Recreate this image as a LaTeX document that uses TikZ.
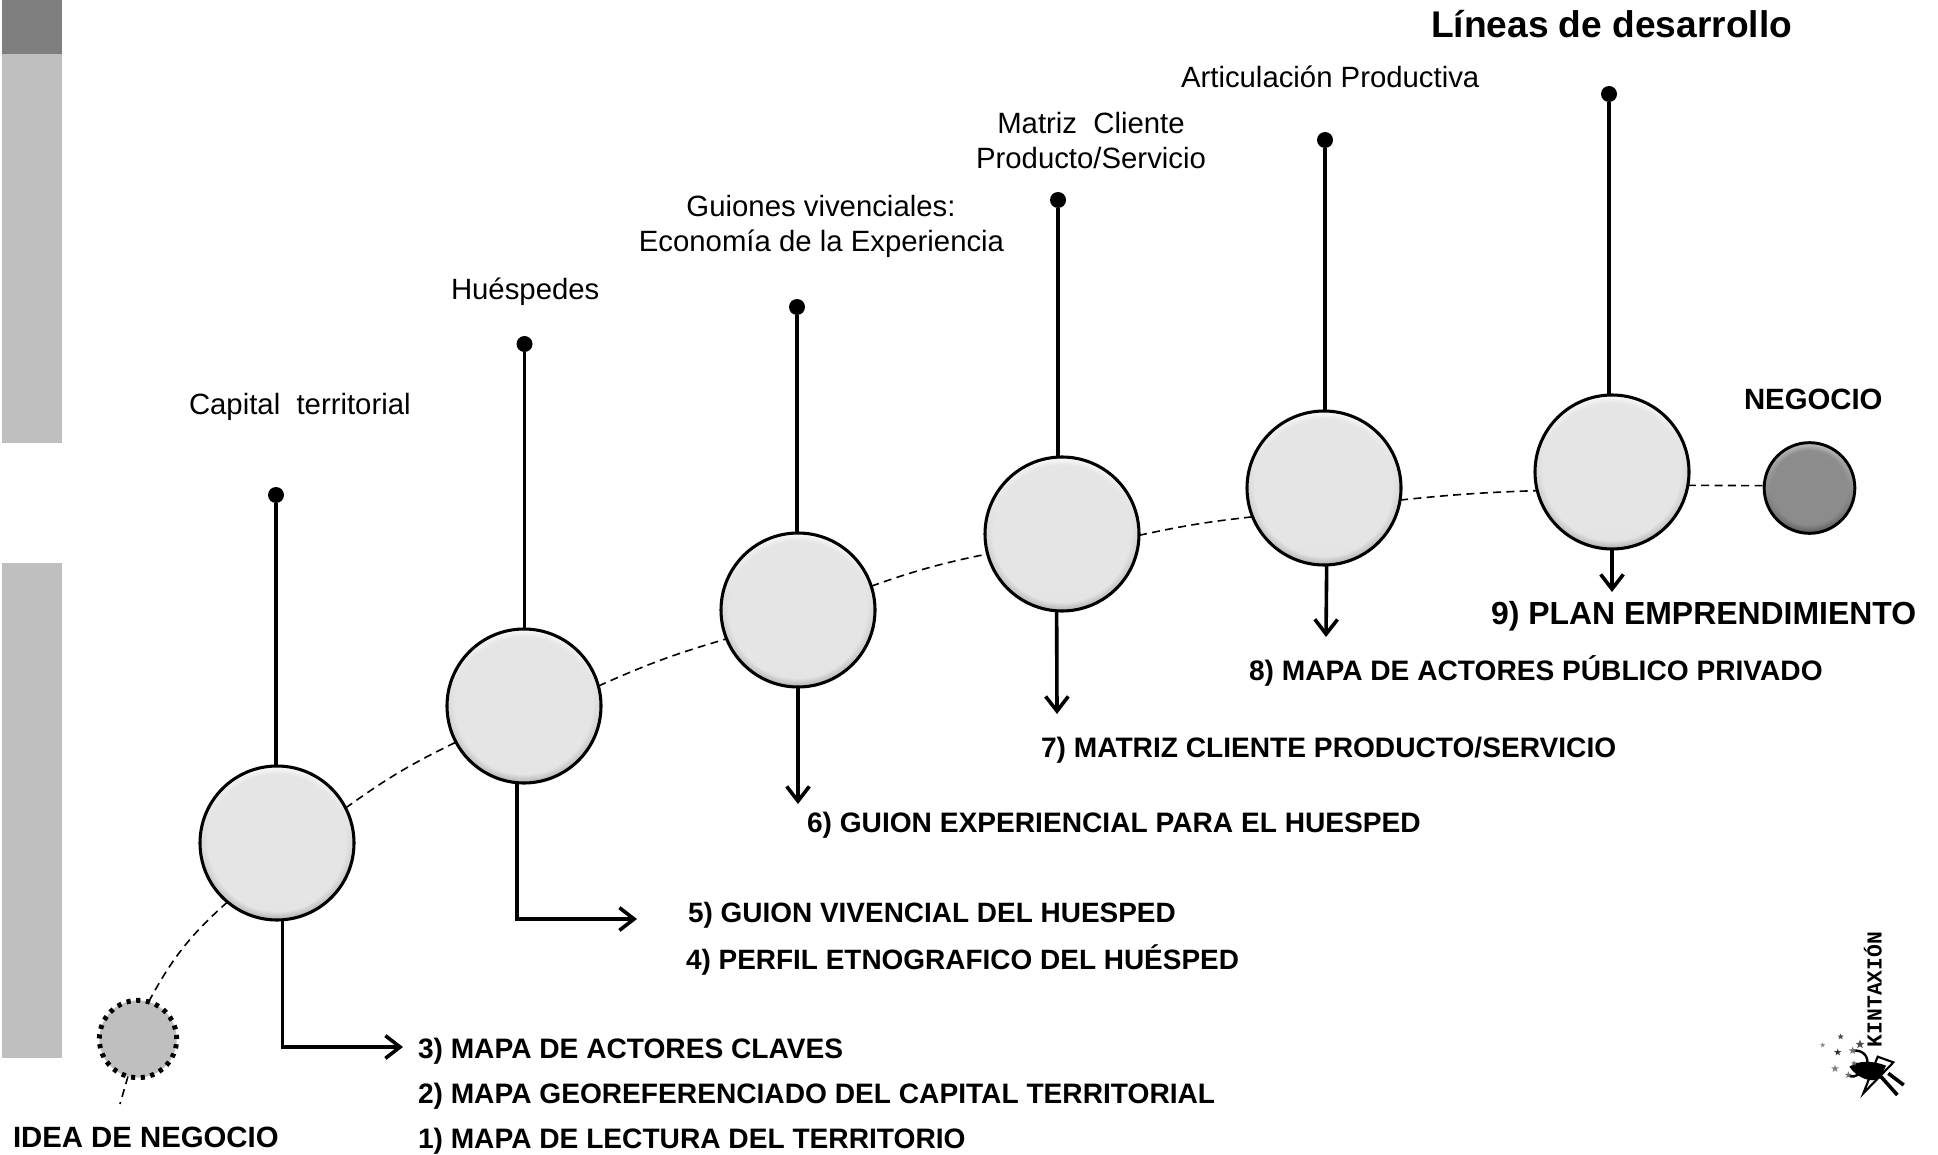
\documentclass[tikz,border=0pt]{standalone}
\usepackage{fontspec}
\setmainfont{Liberation Sans}
\newfontfamily\logofont{Liberation Mono}
\usetikzlibrary{arrows.meta,backgrounds,shapes.geometric}
\definecolor{barlight}{HTML}{BFBFBF}
\definecolor{bardark}{HTML}{7F7F7F}
\definecolor{bubblebase}{HTML}{E5E5E5}
\definecolor{bubbletop}{HTML}{FFFFFF}
\definecolor{bubblebot}{HTML}{ADADAD}
\definecolor{endbase}{HTML}{8C8C8C}
\definecolor{endtop}{HTML}{D0D0D0}
\definecolor{endbot}{HTML}{525252}
\newcommand{\bevel}[4]{%
  \foreach \k in {0,...,9}{%
    \pgfmathtruncatemacro{\pc}{100-\k*11}%
    \pgfmathsetmacro{\rad}{#4-\k*0.75}%
    \shade[top color=#2!\pc!#1,bottom color=#3!\pc!#1]
      (path picture bounding box.center) circle (\rad pt);
  }%
}
\tikzset{
  x=0.75pt,y=-0.75pt,
  bigbubble/.style={circle,draw=black,line width=2.3pt,minimum size=115.5pt,inner sep=0pt,outer sep=0pt,
    path picture={\bevel{bubblebase}{bubbletop}{bubblebot}{58.5}}},
  endbubble/.style={circle,draw=black,line width=2.2pt,minimum size=68pt,inner sep=0pt,outer sep=0pt,
    path picture={\bevel{endbase}{endtop}{endbot}{35}}},
  ideabubble/.style={circle,draw=black,fill=barlight,line width=3.7pt,dash pattern=on 3.1pt off 4.2pt,minimum size=58pt,inner sep=0pt,outer sep=0pt},
  dotnode/.style={circle,fill=black,minimum size=12pt,inner sep=0pt,outer sep=0pt},
  stem/.style={line width=2.7pt,black},
  outarrow/.style={line width=2.7pt,black,line cap=round,-{Straight Barb[length=11pt,width=17pt,line width=2.7pt]}},
  flowcurve/.style={line width=1.2pt,black,dash pattern=on 6pt off 4pt},
  lefttext/.style={anchor=base west,inner sep=0pt,outer sep=0pt},
  midtext/.style={anchor=base,inner sep=0pt,outer sep=0pt},
  itemtext/.style={lefttext,font=\fontsize{21.1pt}{24pt}\selectfont\bfseries},
  itemnarrow/.style={lefttext,font=\fontsize{20.97pt}{24pt}\selectfont\bfseries},
  plaintext/.style={font=\fontsize{22pt}{26pt}\selectfont},
}
\begin{document}
\begin{tikzpicture}
\useasboundingbox (0,0) rectangle (1938,1155);
% side bars
\fill[bardark] (2,0) rectangle (62,54);
\fill[barlight] (2,54) rectangle (62,443);
\fill[barlight] (2,563) rectangle (62,1058);
% bubbles
\node[ideabubble] (idea) at (138,1039) {};
\node[bigbubble] (c1) at (277,843) {};
\node[bigbubble] (c2) at (524,706) {};
\node[bigbubble] (c3) at (798,610) {};
\node[bigbubble] (c4) at (1062,534) {};
\node[bigbubble] (c5) at (1324,488) {};
\node[bigbubble] (c6) at (1612,472) {};
\node[endbubble] (neg) at (1809.5,488) {};
% stem tops
\node[dotnode] (d1) at (276,495) {};
\node[dotnode] (d2) at (524.5,344) {};
\node[dotnode] (d3) at (797,307) {};
\node[dotnode] (d4) at (1058,200) {};
\node[dotnode] (d5) at (1325,140) {};
\node[dotnode] (d6) at (1609,94) {};
% arrow ends
\coordinate (a1) at (403,1047);
\coordinate (a2) at (637,919);
\coordinate (a3) at (798,804);
\coordinate (a4) at (1057,714);
\coordinate (a5) at (1326,637);
\coordinate (a6) at (1612,592);
\coordinate (tail) at (120,1104);
\begin{scope}[on background layer]
  \draw[flowcurve] (idea.-105) -- (tail);
  \draw[flowcurve] (idea.74) to[bend left=10] (c1.230);
  \draw[flowcurve] (c1.27) to[bend left=5] (c2.208);
  \draw[flowcurve] (c2.15) to[bend left=4] (c3.202);
  \draw[flowcurve] (c3.18) to[bend left=4] (c4.195);
  \draw[flowcurve] (c4.-1) to[bend left=3] (c5.202);
  \draw[flowcurve] (c5.-9) to[bend left=2] (c6.194);
  \draw[flowcurve] (c6.-10) -- (neg.177);
  \draw[stem] (d1) -- (d1 |- c1.north);
  \draw[stem] (d2) -- (d2 |- c2.north);
  \draw[stem] (d3) -- (d3 |- c3.north);
  \draw[stem] (d4) -- (d4 |- c4.north);
  \draw[stem] (d5) -- (d5 |- c5.north);
  \draw[stem] (d6) -- (d6 |- c6.north);
  \draw[outarrow] (c1.-86) |- (a1);
  \draw[outarrow] (c2.-95) |- (a2);
  \draw[outarrow] (c3.south) -- (a3);
  \draw[outarrow] (c4.-94) -- (a4);
  \draw[outarrow] (c5.-88) -- (a5);
  \draw[outarrow] (c6.south) -- (a6);
\end{scope}
% titles and labels
\node[lefttext,font=\fontsize{27.85pt}{32pt}\selectfont\bfseries] (title) at (1431,38) {Líneas de desarrollo};
\node[lefttext,plaintext] (l1) at (189,415) {Capital\ \ territorial};
\node[lefttext,plaintext] (l2) at (451,300) {Huéspedes};
\node[midtext,plaintext] (l3a) at (821,217) {Guiones vivenciales:};
\node[midtext,plaintext] (l3b) at (821.5,252) {Economía de la Experiencia};
\node[midtext,plaintext] (l4a) at (1091,134) {Matriz\ \ Cliente};
\node[midtext,plaintext] (l4b) at (1091,169) {Producto/Servicio};
\node[lefttext,plaintext] (l5) at (1181,88) {Articulación Productiva};
\node[lefttext,font=\fontsize{22pt}{26pt}\selectfont\bfseries] (negl) at (1744,410) {NEGOCIO};
\node[lefttext,font=\fontsize{22pt}{26pt}\selectfont\bfseries] (ideal) at (13,1147) {IDEA DE NEGOCIO};
\node[itemtext] (i1) at (418,1148.5) {1) MAPA DE LECTURA DEL TERRITORIO};
\node[itemtext] (i2) at (418,1103.5) {2) MAPA GEOREFERENCIADO DEL CAPITAL TERRITORIAL};
\node[itemtext] (i3) at (418,1058.5) {3) MAPA DE ACTORES CLAVES};
\node[itemnarrow] (i4) at (686,969.5) {4) PERFIL ETNOGRAFICO DEL HUÉSPED};
\node[itemnarrow] (i5) at (688,922.5) {5) GUION VIVENCIAL DEL HUESPED};
\node[itemtext] (i6) at (807,832) {6) GUION EXPERIENCIAL PARA EL HUESPED};
\node[itemtext] (i7) at (1041,757) {7) MATRIZ CLIENTE PRODUCTO/SERVICIO};
\node[itemtext] (i8) at (1249,680) {8) MAPA DE ACTORES PÚBLICO PRIVADO};
\node[lefttext,font=\fontsize{23.95pt}{28pt}\selectfont\bfseries] (i9) at (1491,624) {9) PLAN EMPRENDIMIENTO};
% logo
\begin{scope}[shift={(1780,900)},x=0.25pt,y=-0.25pt]
  \node[anchor=base west,inner sep=0pt,outer sep=0pt,rotate=90,font=\fontsize{16pt}{18pt}\selectfont\logofont\bfseries] (logo) at (305,441) {KINTAXIÓN};
  \draw[line width=1.6pt,line join=miter] (250,580) -- (293,470) -- (340,487) -- cycle;
  \fill (208,500) .. controls (235,480) and (280,482) .. (318,497) -- (300,535) .. controls (275,550) and (232,535) .. (208,500) -- cycle;
  \draw[line width=1.8pt] (215,452) .. controls (245,448) and (265,465) .. (262,492);
  \draw[line width=1.8pt] (205,527) .. controls (230,535) and (245,520) .. (250,500);
  \draw[line width=2.7pt] (303,530) -- (352,585);
  \draw[line width=2.7pt] (325,520) -- (371,555);
  \foreach \i/\sx/\sy/\ss/\sc in {1/182/410/5/black!70,2/128/435/4/black!45,3/240/433/7/black!70,4/173/457/5.5/black!80,5/218/452/6/black!55,6/165/506/6/black!50,7/205/525/5.5/black!55,8/222/490/4.5/black!60}{
    \node[star,star points=5,star point ratio=2.4,fill=\sc,minimum size=\ss pt,inner sep=0pt] (s\i) at (\sx,\sy) {};
  }
\end{scope}
\end{tikzpicture}
\end{document}
